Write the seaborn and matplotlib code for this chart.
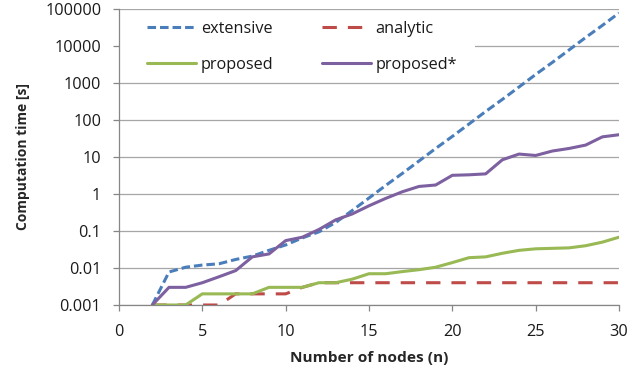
import matplotlib
matplotlib.use("Agg")
import matplotlib.pyplot as plt
from matplotlib.patches import Rectangle
import seaborn as sns
import numpy as np
import pandas as pd

nodes = list(range(2, 31))
extensive = [0.001, 0.0078, 0.0105, 0.012, 0.013, 0.017, 0.021, 0.03, 0.042, 0.065,
             0.095, 0.17, 0.36, 0.78, 1.7, 3.6, 7.8, 17, 36, 78,
             170, 360, 780, 1700, 3600, 7800, 17000, 36000, 78000]
analytic = [0.001, 0.001, 0.001, 0.001, 0.001, 0.002, 0.002, 0.002, 0.002, 0.003,
            0.004, 0.004, 0.004, 0.004, 0.004, 0.004, 0.004, 0.004, 0.004, 0.004,
            0.004, 0.004, 0.004, 0.004, 0.004, 0.004, 0.004, 0.004, 0.004]
proposed = [0.001, 0.001, 0.001, 0.002, 0.002, 0.002, 0.002, 0.003, 0.003, 0.003,
            0.004, 0.004, 0.005, 0.007, 0.007, 0.008, 0.009, 0.0105, 0.014, 0.019,
            0.02, 0.025, 0.03, 0.033, 0.034, 0.035, 0.04, 0.05, 0.068]
proposed_star = [0.001, 0.003, 0.003, 0.004, 0.0058, 0.0085, 0.02, 0.024, 0.055, 0.068,
                 0.11, 0.2, 0.29, 0.48, 0.76, 1.15, 1.6, 1.75, 3.2, 3.3,
                 3.5, 8.4, 12, 11, 14.5, 17, 21, 35, 40]

series_names = ["extensive", "analytic", "proposed", "proposed*"]
colors = ["#4a7ebb", "#be4b48", "#98b954", "#7d60a0"]
styles = [(0, (2.8, 1.3)), (0, (4.7, 3.6)), "-", "-"]

y_ticks = [0.001, 0.01, 0.1, 1, 10, 100, 1000, 10000, 100000]
y_tick_labels = ["0.001", "0.01", "0.1", "1", "10", "100", "1000", "10000", "100000"]
x_ticks = [0, 5, 10, 15, 20, 25, 30]

sns.set_theme(style="white")
plt.rcParams["font.family"] = ["Open Sans", "DejaVu Sans"]

fig = plt.figure(figsize=(6.29, 3.74), dpi=100)
ax = fig.add_axes([119/629, 1 - 305/374, 500/629, 296/374])

values = [extensive, analytic, proposed, proposed_star]
for name, vals, col, ls in zip(series_names, values, colors, styles):
    df = pd.DataFrame({"n": nodes, "t": vals})
    sns.lineplot(data=df, x="n", y="t", ax=ax, color=col, linewidth=2.2,
                 linestyle=ls, label=name, zorder=3)

ax.set_yscale("log")
ax.set_xlim(0, 30)
ax.set_ylim(0.001, 100000)
ax.set_yticks(y_ticks)
ax.set_yticklabels(y_tick_labels)
ax.minorticks_off()
ax.set_xticks(x_ticks)
ax.set_xticklabels([str(v) for v in x_ticks])

ax.grid(axis="y", color="#a6a6a6", linewidth=0.9, zorder=0)
ax.grid(axis="x", visible=False)
for s in ["top", "right"]:
    ax.spines[s].set_visible(False)
for s in ["left", "bottom"]:
    ax.spines[s].set_color("#868686")
    ax.spines[s].set_linewidth(0.9)

ax.tick_params(axis="both", which="major", direction="out", length=4.3,
               width=0.9, color="#868686", labelsize=11.7, labelcolor="#1a1a1a",
               left=True, bottom=True)
ax.tick_params(axis="y", pad=8.5)
ax.tick_params(axis="x", pad=9.5)

ax.set_xlabel("Number of nodes (n)", fontsize=11.1, fontweight="bold", labelpad=8)
ax.set_ylabel("Computation time [s]", fontsize=10.0, fontweight="bold", labelpad=11)

# white backing behind the legend (hides the gridline it sits on)
ax.add_patch(Rectangle((0, (305 - 78) / 296), (475 - 119) / 500, (78 - 14) / 296,
                       transform=ax.transAxes, facecolor="white", edgecolor="none",
                       zorder=2))

handles, labels = ax.get_legend_handles_labels()
order = [0, 2, 1, 3]
leg = ax.legend([handles[i] for i in order], [labels[i] for i in order],
                ncol=2, loc="upper left", bbox_to_anchor=((147 - 119) / 500, (305 - 21) / 296),
                frameon=False, fontsize=11.7, handlelength=3.0, handletextpad=0.3,
                columnspacing=3.0, labelspacing=1.22, borderpad=0.0, borderaxespad=0.0)
leg.set_zorder(5)
for t in leg.get_texts():
    t.set_color("#1a1a1a")

fig.savefig("out.png", dpi=100)
